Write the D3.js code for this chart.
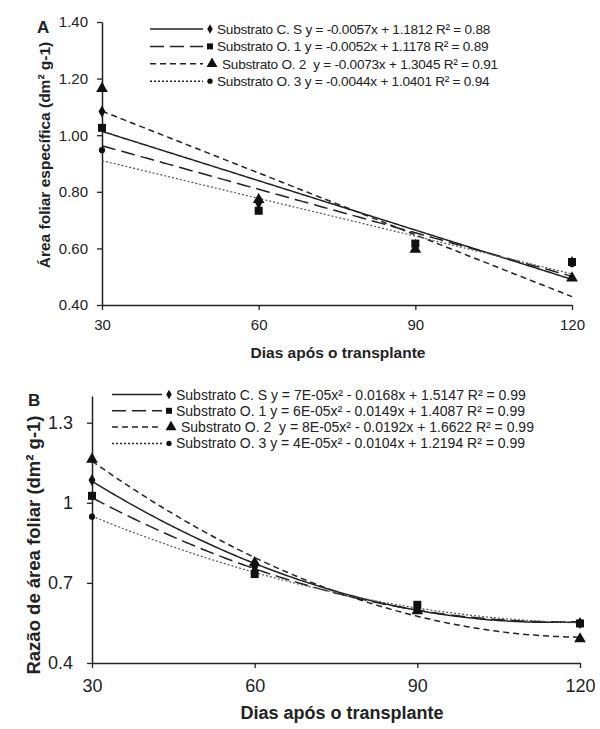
<!DOCTYPE html>
<html>
<head>
<meta charset="utf-8">
<script src="https://cdn.jsdelivr.net/npm/d3@7"></script>
<style>
  body { margin: 0; background: #fff; }
  svg text { font-family: "Liberation Sans", Arial, sans-serif; fill: #222; }
</style>
</head>
<body>
<div id="chart"></div>
<script>
// days after transplant
var days = [30, 60, 90, 120];
var seriesNames = ["Substrato C. S", "Substrato O. 1", "Substrato O. 2", "Substrato O. 3"];

// A - area foliar especifica (dm2 g-1)
var afeCS = [1.084, 0.760, 0.612, 0.552];
var afeO1 = [1.026, 0.733, 0.617, 0.552];
var afeO2 = [1.165, 0.772, 0.597, 0.495];
var afeO3 = [0.947, 0.738, 0.610, 0.545];
var eqA = [
    " y = -0.0057x + 1.1812 R² = 0.88",
    " y = -0.0052x + 1.1178 R² = 0.89",
    "  y = -0.0073x + 1.3045 R² = 0.91",
    " y = -0.0044x + 1.0401 R² = 0.94"
];

// B - razao de area foliar (dm2 g-1)
var rafCS = [1.085, 0.760, 0.610, 0.550];
var rafO1 = [1.026, 0.733, 0.618, 0.548];
var rafO2 = [1.163, 0.775, 0.595, 0.490];
var rafO3 = [0.948, 0.745, 0.600, 0.552];
var eqB = [
    " y = 7E-05x² - 0.0168x + 1.5147 R² = 0.99",
    " y = 6E-05x² - 0.0149x + 1.4087 R² = 0.99",
    "  y = 8E-05x² - 0.0192x + 1.6622 R² = 0.99",
    " y = 4E-05x² - 0.0104x + 1.2194 R² = 0.99"
];

var ticksA = [0.4, 0.6, 0.8, 1.0, 1.2, 1.4];
var ticksB = [0.4, 0.7, 1.0, 1.3];

var symbols = [d3.symbolDiamond, d3.symbolSquare, d3.symbolTriangle, d3.symbolCircle];
var markSize = [42, 64, 60, 30];
var legSize = [26, 36, 52, 22];
var dashes = [null, "14,6", "6,4", "2,2"];

// least squares trend lines (what the spreadsheet did)
function linFit(xs, ys) {
    var mx = d3.mean(xs), my = d3.mean(ys);
    var b = d3.sum(xs, function (x, i) { return (x - mx) * (ys[i] - my); }) /
        d3.sum(xs, function (x) { return (x - mx) * (x - mx); });
    return function (x) { return my + b * (x - mx); };
}
function quadFit(xs, ys) {
    // normal equations for y = a + b x + c x^2
    var s = [0, 0, 0, 0, 0], t = [0, 0, 0];
    xs.forEach(function (x, i) {
        for (var k = 0; k < 5; k++) s[k] += Math.pow(x, k);
        for (var k2 = 0; k2 < 3; k2++) t[k2] += ys[i] * Math.pow(x, k2);
    });
    var m = [[s[0], s[1], s[2], t[0]], [s[1], s[2], s[3], t[1]], [s[2], s[3], s[4], t[2]]];
    for (var c = 0; c < 3; c++) {
        for (var r = c + 1; r < 3; r++) {
            var f = m[r][c] / m[c][c];
            for (var j = c; j < 4; j++) m[r][j] -= f * m[c][j];
        }
    }
    var p = [0, 0, 0];
    for (var r2 = 2; r2 >= 0; r2--) {
        var v = m[r2][3];
        for (var j2 = r2 + 1; j2 < 3; j2++) v -= m[r2][j2] * p[j2];
        p[r2] = v / m[r2][r2];
    }
    return function (x) { return p[0] + p[1] * x + p[2] * x * x; };
}

var svg = d3.select("#chart").append("svg")
    .attr("width", 600)
    .attr("height", 729);

function panel(o) {
    var g = svg.append("g");
    var x = d3.scaleLinear().domain([30, 120]).range(o.xr);
    var y = d3.scaleLinear().domain([0.4, 1.4]).range(o.yr);

    var xAxis = g.append("g")
        .attr("transform", "translate(0," + o.yr[0] + ")")
        .call(d3.axisBottom(x).tickValues(days).tickSize(5).tickSizeOuter(0).tickPadding(o.xPad));
    var yAxis = g.append("g")
        .attr("transform", "translate(" + o.xr[0] + ",0)")
        .call(d3.axisLeft(y).tickValues(o.ticks).tickFormat(o.fmt).tickSize(5).tickSizeOuter(0).tickPadding(o.yPad));
    [xAxis, yAxis].forEach(function (a) {
        a.select(".domain").attr("stroke", "#222").attr("stroke-width", 1.5);
        a.selectAll(".tick line").attr("stroke", "#222").attr("stroke-width", 1.3);
        a.selectAll(".tick text").style("font-size", o.tickFont + "px").attr("fill", "#333");
    });

    var xs = d3.range(30, 120.01, 0.5);
    var line = d3.line().x(function (d) { return x(d[0]); }).y(function (d) { return y(d[1]); });

    o.series.forEach(function (vals, i) {
        var fit = o.fit(days, vals);
        g.append("path")
            .attr("d", line(xs.map(function (v) { return [v, fit(v)]; })))
            .attr("fill", "none")
            .attr("stroke", i == 3 ? "#555" : "#222")
            .attr("stroke-width", i == 3 ? 1.2 : 1.5)
            .attr("stroke-dasharray", dashes[i]);
    });
    o.series.forEach(function (vals, i) {
        g.selectAll(null).data(vals).enter().append("path")
            .attr("d", d3.symbol().type(symbols[i]).size(markSize[i]))
            .attr("transform", function (d, k) { return "translate(" + x(days[k]) + "," + y(d) + ")"; })
            .attr("fill", "#111");
    });

    // legend
    var lg = g.append("g");
    seriesNames.forEach(function (name, i) {
        var ly = o.legY + i * o.legStep;
        lg.append("line")
            .attr("x1", o.legX).attr("x2", o.legX + o.legW)
            .attr("y1", ly).attr("y2", ly)
            .attr("stroke", "#222").attr("stroke-width", 1.5)
            .attr("stroke-dasharray", dashes[i]);
        lg.append("path")
            .attr("d", d3.symbol().type(symbols[i]).size(legSize[i]))
            .attr("transform", "translate(" + (o.legX + o.legW + (i == 2 ? 9 : 7)) + "," + ly + ")")
            .attr("fill", "#111");
        lg.append("text")
            .attr("x", o.legX + o.legW + (i == 2 ? 19 : 14))
            .attr("y", ly + 5)
            .style("font-size", o.legFont + "px")
            .style("letter-spacing", o.legSpacing + "px")
            .style("white-space", "pre")
            .text(name + o.eq[i]);
    });

    // labels
    g.append("text")
        .attr("x", o.letter[0]).attr("y", o.letter[1])
        .style("font-size", "17px").style("font-weight", "bold")
        .text(o.name);
    g.append("text")
        .attr("x", o.xTitle[0]).attr("y", o.xTitle[1])
        .attr("text-anchor", "middle")
        .style("font-size", o.titleFont + "px").style("font-weight", "bold")
        .text("Dias após o transplante");
    g.append("text")
        .attr("transform", "translate(" + o.yTitle[0] + "," + o.yTitle[1] + ") rotate(-90)")
        .attr("text-anchor", "middle")
        .style("font-size", o.yTitleFont + "px").style("font-weight", "bold")
        .text(o.yLabel);
}

panel({
    name: "A",
    xr: [102, 572], yr: [305, 22],
    ticks: ticksA, fmt: d3.format(".2f"),
    xPad: 9, yPad: 9, tickFont: 15,
    series: [afeCS, afeO1, afeO2, afeO3], fit: linFit, eq: eqA,
    legX: 150, legW: 53, legY: 29, legStep: 17.4, legFont: 13.6, legSpacing: -0.25,
    letter: [37, 33],
    xTitle: [338, 358], titleFont: 15.5,
    yTitle: [50, 155], yTitleFont: 15.5,
    yLabel: "Área foliar específica (dm² g-1)"
});

panel({
    name: "B",
    xr: [92, 580], yr: [663, 396],
    ticks: ticksB, fmt: d3.format("~g"),
    xPad: 11, yPad: 14, tickFont: 18,
    series: [rafCS, rafO1, rafO2, rafO3], fit: quadFit, eq: eqB,
    legX: 112, legW: 50, legY: 394.5, legStep: 16.3, legFont: 14, legSpacing: 0,
    letter: [28, 406],
    xTitle: [342, 719], titleFont: 18,
    yTitle: [40, 545], yTitleFont: 18.5,
    yLabel: "Razão de área foliar (dm² g-1)"
});
</script>
</body>
</html>
